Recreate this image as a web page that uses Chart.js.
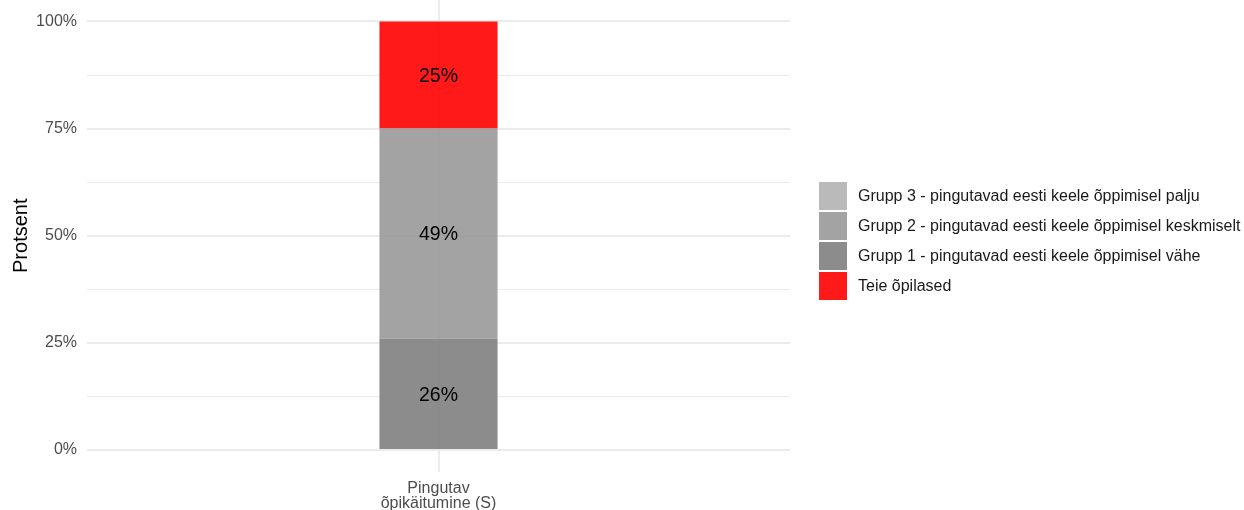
<!DOCTYPE html>
<html>
<head>
<meta charset="utf-8">
<script src="https://cdn.jsdelivr.net/npm/chart.js@4/dist/chart.umd.min.js"></script>
<style>
  body { margin: 0; background: #fff; font-family: Arial, "Liberation Sans", sans-serif; }
  #wrap { position: relative; width: 1244px; height: 510px; }
  #legend { position: absolute; left: 819px; top: 182px; }
  .item { display: flex; align-items: center; height: 28px; margin-bottom: 2px; font-size: 16px; color: #1a1a1a; white-space: nowrap; }
  .box { width: 28px; height: 28px; margin-right: 11px; }
</style>
</head>
<body>
<div id="wrap">
  <canvas id="chart" width="1244" height="510"></canvas>
  <div id="legend"></div>
</div>
<script>
// One stacked bar, groups from bottom to top
const categories = [['Pingutav', 'õpikäitumine (S)']];
const groups = [
  'Grupp 1 - pingutavad eesti keele õppimisel vähe',
  'Grupp 2 - pingutavad eesti keele õppimisel keskmiselt',
  'Grupp 3 - pingutavad eesti keele õppimisel palju',
  'Teie õpilased'
];
const values = [[26], [49], [0], [25]];
const colors = ['rgba(128,128,128,0.9)', 'rgba(153,153,153,0.9)', 'rgba(179,179,179,0.9)', 'rgba(255,0,0,0.9)'];
const legendOrder = [2, 1, 0, 3];
const yTicks = [0, 12.5, 25, 37.5, 50, 62.5, 75, 87.5, 100];
const FONT = 'Arial, "Liberation Sans"';

const datasets = groups.map((g, i) => ({
  label: g,
  data: values[i],
  backgroundColor: colors[i],
  borderWidth: 0,
  stack: 's',
  barPercentage: 1,
  categoryPercentage: 0.168
}));

// percent text in the middle of every segment
const segLabels = {
  id: 'segLabels',
  afterDatasetsDraw(chart) {
    const ctx = chart.ctx;
    ctx.save();
    ctx.font = '19.5px ' + FONT;
    ctx.fillStyle = '#000';
    ctx.textAlign = 'center';
    ctx.textBaseline = 'middle';
    chart.data.datasets.forEach((ds, i) => {
      chart.getDatasetMeta(i).data.forEach((bar, j) => {
        const v = ds.data[j];
        if (!v) return;
        ctx.fillText(v + '%', bar.x, (bar.y + bar.base) / 2 + 1.5);
      });
    });
    ctx.restore();
  }
};

new Chart(document.getElementById('chart'), {
  type: 'bar',
  data: { labels: categories, datasets },
  plugins: [segLabels],
  options: {
    responsive: false,
    animation: false,
    layout: { padding: { left: 0, right: 454, top: 0, bottom: 0 } },
    plugins: { legend: { display: false }, tooltip: { enabled: false } },
    scales: {
      x: {
        stacked: true,
        border: { display: false },
        grid: { offset: false, color: '#ebebeb', lineWidth: 2, drawTicks: false },
        ticks: { color: '#4d4d4d', font: { size: 16, family: FONT, lineHeight: 0.95 }, padding: 9 },
        afterFit(s) { s.height = 38.5; s.paddingLeft = 0; s.paddingRight = 0; }
      },
      y: {
        stacked: true,
        min: -5,
        max: 105,
        border: { display: false },
        afterBuildTicks(s) { s.ticks = yTicks.map(v => ({ value: v })); },
        afterFit(s) { s.width = 87; s.paddingTop = 0; s.paddingBottom = 0; },
        grid: {
          drawTicks: false,
          color: '#ebebeb',
          lineWidth: c => (c.tick && c.tick.value % 25 === 0) ? 2 : 1
        },
        ticks: {
          color: '#4d4d4d',
          padding: 10,
          font: { size: 16, family: FONT },
          callback: v => v % 25 === 0 ? v + '%' : ''
        },
        title: {
          display: true,
          text: 'Protsent',
          color: '#000',
          font: { size: 20, family: FONT },
          padding: { top: 9, bottom: 0 }
        }
      }
    }
  }
});

// legend rows
const legend = document.getElementById('legend');
legendOrder.forEach(i => {
  const row = document.createElement('div');
  row.className = 'item';
  row.innerHTML = `<div class="box" style="background:${colors[i]}"></div><span>${groups[i]}</span>`;
  legend.appendChild(row);
});
</script>
</body>
</html>
